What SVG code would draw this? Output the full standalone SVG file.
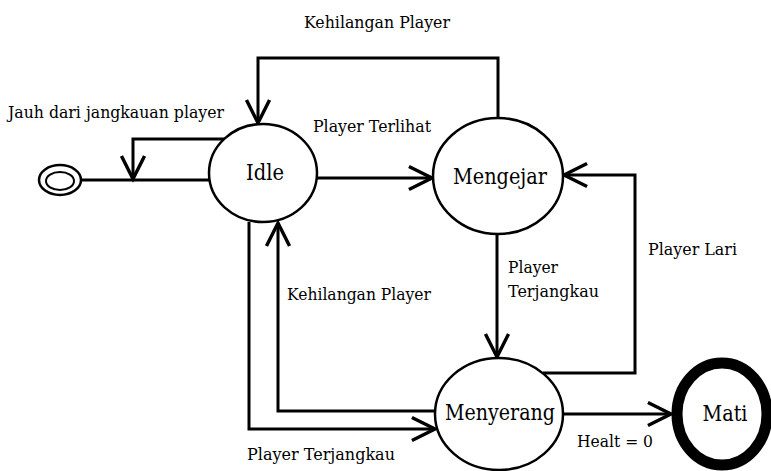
<svg xmlns="http://www.w3.org/2000/svg" width="771" height="471" viewBox="0 0 771 471">
<style>
.node{fill:#fff;stroke:#000;stroke-width:2.5}
.edge{fill:none;stroke:#000;stroke-width:3}
text{font-family:'DejaVu Serif','Liberation Serif',serif;fill:#000}
.lbl{font-size:17px}
.nl{font-size:22px;text-anchor:middle}
</style>
<defs>
<marker id="arr" markerUnits="userSpaceOnUse" markerWidth="30" markerHeight="30" viewBox="-22 -12 26 24" refX="0" refY="0" orient="auto">
<path d="M-20,-10 L0,0 L-20,10" fill="none" stroke="#000" stroke-width="3"/>
</marker>
</defs>
<rect width="771" height="471" fill="#fff"/>
<g id="connectors">
<path class="edge" d="M82,180 L209,180"/>
<path class="edge" d="M224,139 L133,139 L133,179" marker-end="url(#arr)"/>
<path class="edge" d="M498,118 L498,58 L258,58 L258,123" marker-end="url(#arr)"/>
<path class="edge" d="M317,178 L432,178" marker-end="url(#arr)"/>
<path class="edge" d="M249,222 L249,429 L435,429" marker-end="url(#arr)"/>
<path class="edge" d="M435,411 L278,411 L278,223" marker-end="url(#arr)"/>
<path class="edge" d="M497,234 L497,357" marker-end="url(#arr)"/>
<path class="edge" d="M543,373 L635,373 L635,175 L564,175" marker-end="url(#arr)"/>
<path class="edge" d="M563,414 L671,414" marker-end="url(#arr)"/>
</g>
<g id="labels">
<text class="lbl" x="304" y="28" textLength="146" lengthAdjust="spacingAndGlyphs">Kehilangan Player</text>
<text class="lbl" x="8" y="118" textLength="216" lengthAdjust="spacingAndGlyphs">Jauh dari jangkauan player</text>
<text class="lbl" x="313" y="132" textLength="118" lengthAdjust="spacingAndGlyphs">Player Terlihat</text>
<text class="lbl" x="287" y="300" textLength="144" lengthAdjust="spacingAndGlyphs">Kehilangan Player</text>
<text class="lbl" x="247" y="460" textLength="148" lengthAdjust="spacingAndGlyphs">Player Terjangkau</text>
<text class="lbl" x="508" y="273" textLength="50" lengthAdjust="spacingAndGlyphs">Player</text>
<text class="lbl" x="508" y="297" textLength="91" lengthAdjust="spacingAndGlyphs">Terjangkau</text>
<text class="lbl" x="648" y="255" textLength="89" lengthAdjust="spacingAndGlyphs">Player Lari</text>
<text class="lbl" x="577" y="447" textLength="76" lengthAdjust="spacingAndGlyphs">Healt = 0</text>
</g>
<g id="start">
<ellipse cx="60" cy="180" rx="21" ry="15" fill="#fff" stroke="#000" stroke-width="2.5"/>
<ellipse cx="60" cy="181" rx="14" ry="9" fill="#fff" stroke="#000" stroke-width="2"/>
</g>
<g id="idle">
<ellipse class="node" cx="263" cy="173" rx="54" ry="49"/>
<text class="nl" x="265" y="180" textLength="38" lengthAdjust="spacingAndGlyphs">Idle</text>
</g>
<g id="mengejar">
<ellipse class="node" cx="498" cy="176" rx="65" ry="58"/>
<text class="nl" x="500" y="184" textLength="94" lengthAdjust="spacingAndGlyphs">Mengejar</text>
</g>
<g id="menyerang">
<ellipse class="node" cx="499" cy="414" rx="64" ry="56"/>
<text class="nl" x="500" y="420" textLength="110" lengthAdjust="spacingAndGlyphs">Menyerang</text>
</g>
<g id="mati">
<ellipse cx="722" cy="414" rx="45" ry="51" fill="#fff" stroke="#000" stroke-width="11"/>
<text class="nl" x="725" y="421" textLength="45" lengthAdjust="spacingAndGlyphs">Mati</text>
</g>
</svg>
